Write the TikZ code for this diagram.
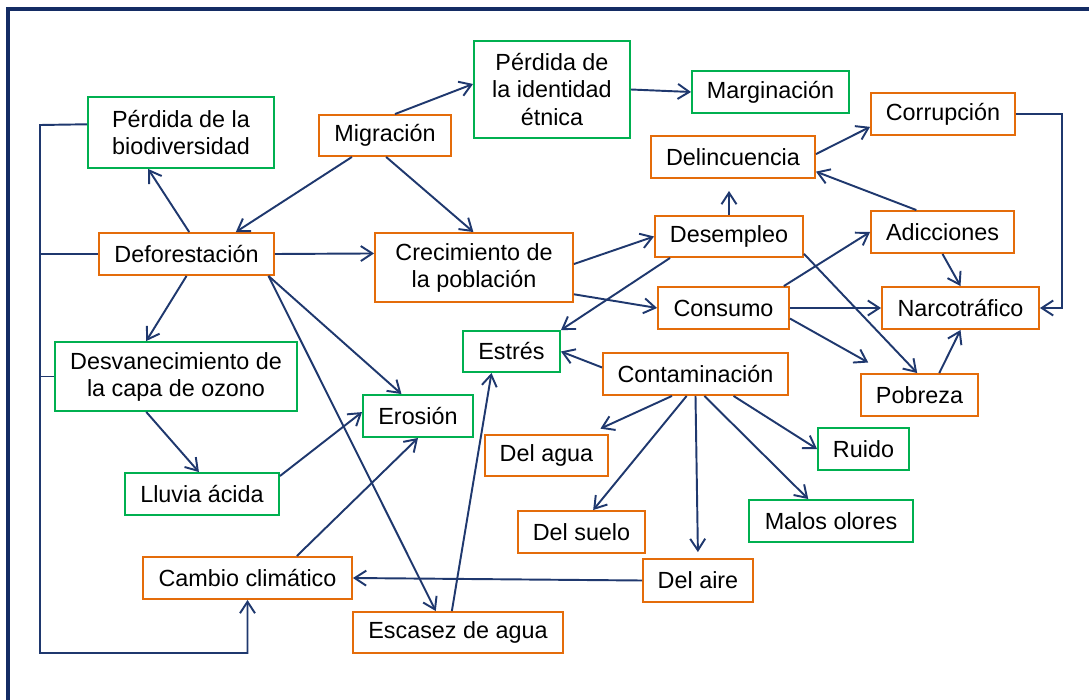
\documentclass[tikz,border=0pt]{standalone}
\usepackage{fontspec}
\setmainfont{Liberation Sans}
\usetikzlibrary{arrows.meta}
\definecolor{navyline}{RGB}{31,56,110}
\definecolor{framenavy}{RGB}{20,44,100}
\definecolor{boxorange}{RGB}{228,108,10}
\definecolor{boxgreen}{RGB}{0,176,80}

\begin{document}
\begin{tikzpicture}[x=0.02cm,y=-0.02cm,
  box/.style={draw,line width=1.1pt,fill=white,inner sep=0pt,align=center,
    font=\fontsize{13.3}{15.4}\selectfont,minimum height=0.84cm},
  obox/.style={box,draw=boxorange},
  gbox/.style={box,draw=boxgreen},
  link/.style={navyline,line width=1.1pt,-{Straight Barb[length=2.3mm,width=3mm]}},
  busline/.style={navyline,line width=1.1pt}]
\path[use as bounding box] (0,0) rectangle (1089,700);
\clip (0,0) rectangle (1089,700);
\draw[framenavy,line width=2.2pt] (8,9) rectangle (1120,730);
% causes, left side
\node[gbox,minimum width=3.72cm,minimum height=1.42cm] (biodiv) at (181,132.5) {Pérdida de la\\biodiversidad};
\node[obox,minimum width=2.64cm,minimum height=0.82cm] (migr) at (385,135.5) {Migración};
\node[obox,minimum width=3.5cm] (defor) at (186.5,254) {Deforestación};
\node[gbox,minimum width=4.84cm,minimum height=1.38cm] (ozono) at (176,376.5) {Desvanecimiento de\\la capa de ozono};
\node[gbox,minimum width=3.08cm] (lluvia) at (202,494) {Lluvia ácida};
\node[obox,minimum width=4.18cm] (cambio) at (247.5,578) {Cambio climático};
\node[gbox,minimum width=2.2cm] (erosion) at (418,416) {Erosión};
\node[obox,minimum width=4.2cm,minimum height=0.82cm] (escasez) at (458,632.5) {Escasez de agua};
% middle
\node[gbox,minimum width=3.12cm,minimum height=1.94cm] (etnica) at (552,89.5) {Pérdida de\\la identidad\\étnica};
\node[gbox,minimum width=3.14cm] (margin) at (770.5,92) {Marginación};
\node[obox,minimum width=3.96cm,minimum height=1.38cm] (crec) at (474,267.5) {Crecimiento de\\la población};
\node[obox,minimum width=3.28cm] (delinc) at (733,157) {Delincuencia};
\node[obox,minimum width=2.96cm,minimum height=0.82cm] (desemp) at (729,236.5) {Desempleo};
\node[obox,minimum width=2.62cm] (consumo) at (723.5,308) {Consumo};
\node[gbox,minimum width=1.94cm,minimum height=0.82cm] (estres) at (511.5,351.5) {Estrés};
\node[obox,minimum width=3.7cm] (contam) at (695.5,374) {Contaminación};
\node[obox,minimum width=2.46cm,minimum height=0.82cm] (agua) at (546.5,455.5) {Del agua};
\node[obox,minimum width=2.54cm] (suelo) at (581.5,532) {Del suelo};
\node[obox,minimum width=2.2cm,minimum height=0.86cm] (aire) at (698,580.5) {Del aire};
% right side
\node[obox,minimum width=2.88cm] (corrup) at (943,114) {Corrupción};
\node[obox,minimum width=2.86cm] (adic) at (942.5,232) {Adicciones};
\node[obox,minimum width=3.14cm] (narco) at (960.5,308) {Narcotráfico};
\node[obox,minimum width=2.34cm] (pobreza) at (919.5,395) {Pobreza};
\node[gbox,minimum width=1.82cm] (ruido) at (863.5,449) {Ruido};
\node[gbox,minimum width=3.28cm] (olores) at (831,521) {Malos olores};
% arrows
\draw[link] (defor.83.5) -- (biodiv.228.7);
\draw[link] (migr.213.9) -- (defor.24.8);
\draw[link] (migr.65) -- (etnica.176.8);
\draw[link] (migr.-87.3) -- (crec.91.6);
\draw[link] (defor.east) -- (crec.172.8);
\draw[link] (etnica.east) -- (margin.west);
\draw[link] (crec.2) -- (desemp.west);
\draw[link] (crec.-15.8) -- (consumo.west);
\draw[link] (desemp.200.7) -- (estres.north east);
\draw[link,shorten >=0.24cm] (desemp.north) -- (desemp.north |- delinc.south);
\draw[link] (delinc.2.8) -- (corrup.190);
\draw[link] (adic.140.9) -- (delinc.-10.4);
\draw[link] (consumo.20.6) -- (adic.west);
\draw[link] (adic.south) -- (narco.north);
\draw[link] (consumo.east) -- (narco.west);
\draw[link] (desemp.-13.1) -- (pobreza.96.5);
\draw[link,shorten >=0.43cm] (consumo.-9.7) -- (pobreza.146.3);
\draw[link] (pobreza.48.6) -- (narco.south);
\draw[link] (corrup.east) -- ++(46,0) |- (narco.east);
\draw[link] (contam.176.3) -- (estres.east);
\draw[link,shorten >=0.26cm] (contam.223) -- (agua.27.7);
\draw[link] (contam.248) -- (suelo.62.6);
\draw[link,shorten >=0.12cm] (contam.south) -- (aire.north);
\draw[link] (contam.-68) -- (olores.136.2);
\draw[link] (contam.-30.1) -- (ruido.west);
\draw[link] (aire.west) -- (cambio.east);
\draw[link] (escasez.106.3) -- (estres.227);
\draw[link] (defor.-15) -- (escasez.136.6);
\draw[link] (defor.-15) -- (erosion.127.2);
\draw[link] (defor.south) -- (ozono.130.5);
\draw[link] (ozono.230.3) -- (lluvia.98.4);
\draw[link] (lluvia.13) -- (erosion.176.9);
\draw[link] (cambio.24.9) -- (erosion.south);
% bus on the left
\coordinate (bustop) at (40,125);
\coordinate (busbot) at (40,653);
\draw[link] (biodiv.175.4) -- (bustop) -- (busbot) -| (cambio.south);
\draw[busline] (defor.west) -- (defor.west -| bustop);
\draw[busline] (ozono.west) -- (ozono.west -| bustop);
\end{tikzpicture}
\end{document}
